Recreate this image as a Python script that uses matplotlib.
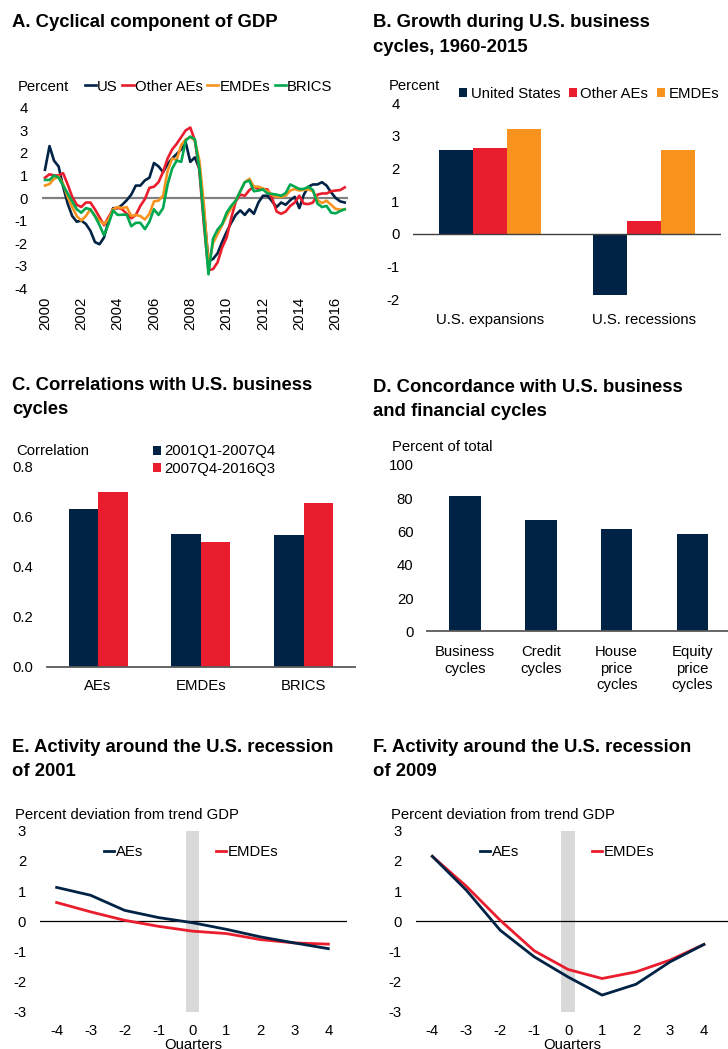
import numpy as np
import pandas as pd
import matplotlib
matplotlib.use('Agg')
import matplotlib.pyplot as plt

plt.rcParams['font.family'] = ['Liberation Sans', 'DejaVu Sans']
plt.rcParams['axes.unicode_minus'] = False

W, H = 728, 1049
NAVY = '#002345'
RED = '#E91D2D'
ORANGE = '#F7931E'
GREEN = '#00A850'
FS = 10.7
TFS = 13.3

# ---------------- Data ----------------
# A. Cyclical component of GDP (percent), quarterly 2000Q1-2016Q3
quarters = pd.period_range('2000Q1', '2016Q3', freq='Q')
a_us = [1.25, 2.3, 1.65, 1.4, 0.5, -0.25, -0.8, -1.05,
        -1.0, -1.15, -1.45, -1.95, -2.05, -1.75, -1.0, -0.45,
        -0.45, -0.3, -0.1, 0.15, 0.55, 0.55, 0.78, 0.9,
        1.55, 1.4, 1.15, 1.5, 1.75, 1.95, 2.15, 2.45,
        1.6, 1.8, 1.3, -0.6, -2.8, -2.7, -2.45, -1.95,
        -1.5, -1.1, -0.75, -0.55, -0.75, -0.5, -0.7, -0.2,
        0.1, 0.1, -0.15, -0.4, -0.2, -0.3, -0.1, 0.05,
        -0.45, 0.15, 0.5, 0.6, 0.6, 0.7, 0.55, 0.25,
        0.0, -0.15, -0.2]
a_other_aes = [0.9, 1.05, 1.0, 1.0, 1.1, 0.6, 0.05, -0.3,
               -0.4, -0.2, -0.2, -0.5, -0.85, -1.2, -0.85, -0.5,
               -0.42, -0.5, -0.7, -0.9, -0.75, -0.35, -0.05, 0.45,
               0.5, 0.7, 1.15, 1.75, 2.15, 2.4, 2.7, 3.0,
               3.12, 2.55, 1.2, -1.2, -3.2, -3.15, -2.85, -2.2,
               -1.75, -0.9, -0.15, 0.15, 0.1, 0.35, 0.5, 0.4,
               0.4, 0.38, 0.0, -0.6, -0.7, -0.6, -0.35, -0.2,
               0.1, -0.25, -0.27, -0.2, 0.15, 0.2, 0.2, 0.3,
               0.33, 0.35, 0.47]
a_emdes = [0.55, 0.62, 0.85, 0.95, 0.62, 0.05, -0.4, -0.8,
           -1.0, -0.8, -0.5, -0.8, -1.0, -1.15, -0.95, -0.5,
           -0.4, -0.45, -0.4, -0.8, -0.75, -0.8, -0.95, -0.7,
           -0.15, -0.12, 0.1, 1.2, 1.75, 1.7, 2.35, 2.6,
           2.7, 2.55, 1.65, -0.3, -3.0, -2.0, -1.6, -1.2,
           -0.8, -0.45, -0.1, 0.3, 0.7, 0.85, 0.5, 0.5,
           0.42, 0.3, 0.15, 0.05, 0.05, 0.1, 0.33, 0.4,
           0.33, 0.36, 0.38, 0.3, -0.1, -0.22, -0.12, -0.3,
           -0.48, -0.52, -0.5]
a_brics = [0.8, 0.8, 1.0, 0.9, 0.55, 0.2, -0.15, -0.5,
           -0.65, -0.45, -0.5, -0.8, -1.2, -1.65, -1.15, -0.55,
           -0.75, -0.74, -0.74, -1.25, -1.1, -1.1, -1.38, -1.05,
           -0.5, -0.75, -0.45, 0.6, 1.3, 1.66, 1.6, 2.55,
           2.72, 2.6, 1.3, -1.0, -3.38, -1.8, -1.4, -1.16,
           -0.65, -0.35, -0.12, 0.3, 0.7, 0.77, 0.3, 0.33,
           0.38, 0.2, 0.18, 0.15, 0.1, 0.22, 0.6, 0.5,
           0.4, 0.4, 0.5, 0.35, -0.25, -0.4, -0.35, -0.65,
           -0.68, -0.58, -0.5]
a_year_ticks = [2000, 2002, 2004, 2006, 2008, 2010, 2012, 2014, 2016]

# B. Growth during U.S. business cycles, 1960-2015
b_categories = ['U.S. expansions', 'U.S. recessions']
b_us = [2.58, -1.88]
b_other_aes = [2.63, 0.40]
b_emdes = [3.20, 2.56]

# C. Correlations with U.S. business cycles
c_categories = ['AEs', 'EMDEs', 'BRICS']
c_2001_2007 = [0.63, 0.53, 0.527]
c_2007_2016 = [0.697, 0.50, 0.656]

# D. Concordance with U.S. business and financial cycles
d_categories = ['Business\ncycles', 'Credit\ncycles', 'House\nprice\ncycles', 'Equity\nprice\ncycles']
d_values = [81.2, 67.1, 61.5, 58.8]

# E / F. Activity around U.S. recessions
ef_quarters = [-4, -3, -2, -1, 0, 1, 2, 3, 4]
e_aes = [1.12, 0.86, 0.36, 0.12, -0.05, -0.27, -0.52, -0.72, -0.91]
e_emdes = [0.62, 0.31, 0.03, -0.17, -0.33, -0.41, -0.61, -0.72, -0.76]
f_aes = [2.15, 1.03, -0.30, -1.18, -1.85, -2.45, -2.09, -1.35, -0.77]
f_emdes = [2.15, 1.16, 0.03, -0.98, -1.60, -1.90, -1.68, -1.29, -0.77]

# ---------------- Figure ----------------
fig = plt.figure(figsize=(W / 100, H / 100), dpi=100)


def px_axes(l, r, t, b):
    return fig.add_axes([l / W, 1 - b / H, (r - l) / W, (b - t) / H])


def style(ax):
    for s in ax.spines.values():
        s.set_visible(False)
    ax.tick_params(length=0, labelsize=FS, pad=10)


def ftext(x, y, s, **kw):
    kw.setdefault('fontsize', FS)
    kw.setdefault('va', 'center')
    return fig.text(x / W, 1 - y / H, s, **kw)


def title(x, y_base, lines):
    for k, line in enumerate(lines):
        fig.text(x / W, 1 - (y_base + 24 * k) / H, line, fontsize=TFS,
                 weight='bold', va='baseline', ha='left')


# ---- Panel A ----
title(12, 27.5, ['A. Cyclical component of GDP'])
axA = px_axes(41.7, 348, 107.7, 288.3)
tA = quarters.year + (quarters.quarter - 1) / 4.0
axA.axhline(0, color='#808080', lw=1.6, zorder=0)
axA.plot(tA, a_us, color=NAVY, lw=1.9, label='US')
axA.plot(tA, a_other_aes, color=RED, lw=1.9, label='Other AEs')
axA.plot(tA, a_emdes, color=ORANGE, lw=1.9, label='EMDEs')
axA.plot(tA, a_brics, color=GREEN, lw=1.9, label='BRICS')
axA.set_xlim(1999.82, 2016.68)
axA.set_ylim(-4, 4)
axA.set_yticks(range(-4, 5))
axA.set_xticks(a_year_ticks)
axA.set_xticklabels([str(y) for y in a_year_ticks], rotation=90)
style(axA)
axA.tick_params(axis='x', pad=6)
ftext(18, 86.7, 'Percent')
hA, lA = axA.get_legend_handles_labels()
fig.legend(hA, lA, loc='center left', bbox_to_anchor=(85 / W, 1 - 86.7 / H),
           ncol=4, frameon=False, fontsize=FS, handlelength=0.75,
           handletextpad=0.08, columnspacing=0.3, borderpad=0, borderaxespad=0)

# ---- Panel B ----
title(373, 27.5, ['B. Growth during U.S. business', 'cycles, 1960-2015'])
axB = px_axes(413.3, 720.7, 103.3, 299.3)
xb = np.arange(len(b_categories))
wb = 0.221
axB.bar(xb - wb, b_us, wb, color=NAVY, label='United States')
axB.bar(xb, b_other_aes, wb, color=RED, label='Other AEs')
axB.bar(xb + wb, b_emdes, wb, color=ORANGE, label='EMDEs')
axB.axhline(0, color='#404040', lw=1.0)
axB.set_xlim(-0.5, 1.5)
axB.set_ylim(-2, 4)
axB.set_yticks(range(-2, 5))
axB.set_xticks(xb)
axB.set_xticklabels(b_categories)
style(axB)
axB.tick_params(axis='x', pad=10)
ftext(389, 86, 'Percent')
hB, lB = axB.get_legend_handles_labels()
fig.legend(hB, lB, loc='center left', bbox_to_anchor=(459 / W, 1 - 94 / H),
           ncol=3, frameon=False, fontsize=FS, handlelength=0.55,
           handleheight=0.55, handletextpad=0.25, columnspacing=0.55,
           borderpad=0, borderaxespad=0)

# ---- Panel C ----
title(12, 390.5, ['C. Correlations with U.S. business', 'cycles'])
axC = px_axes(46.7, 355, 466.7, 666.7)
xc = np.arange(len(c_categories))
wc = 0.287
axC.bar(xc - wc / 2, c_2001_2007, wc, color=NAVY, label='2001Q1-2007Q4')
axC.bar(xc + wc / 2, c_2007_2016, wc, color=RED, label='2007Q4-2016Q3')
axC.axhline(0, color='#595959', lw=1.3, clip_on=False)
axC.set_xlim(-0.5, 2.5)
axC.set_ylim(0, 0.8)
axC.set_yticks([0, 0.2, 0.4, 0.6, 0.8])
axC.set_yticklabels(['0.0', '0.2', '0.4', '0.6', '0.8'])
axC.set_xticks(xc)
axC.set_xticklabels(c_categories)
style(axC)
axC.tick_params(axis='x', pad=9)
ftext(16, 451, 'Correlation')
hC, lC = axC.get_legend_handles_labels()
fig.legend(hC, lC, loc='center left', bbox_to_anchor=(153 / W, 1 - 460.3 / H),
           ncol=1, frameon=False, fontsize=FS, handlelength=0.55,
           handleheight=0.55, handletextpad=0.2, labelspacing=0.25,
           borderpad=0, borderaxespad=0)

# ---- Panel D ----
title(373, 391.5, ['D. Concordance with U.S. business', 'and financial cycles'])
axD = px_axes(427.3, 728, 465, 631.3)
xd = np.arange(len(d_categories))
axD.bar(xd, d_values, 0.415, color=NAVY)
axD.axhline(0, color='#595959', lw=1.3, clip_on=False)
axD.set_xlim(-0.5, 3.47)
axD.set_ylim(0, 100)
axD.set_yticks(range(0, 101, 20))
axD.set_xticks(xd)
axD.set_xticklabels(d_categories, linespacing=1.22)
style(axD)
axD.tick_params(axis='x', pad=10)
ftext(391.7, 446.7, 'Percent of total')


# ---- Panels E and F ----
def recession_panel(l, r, xmax, aes, emdes, txt_x, leg_x):
    ax = px_axes(l, r, 830.7, 1011.7)
    ax.axvspan(-0.2, 0.2, color='#D9D9D9', lw=0, zorder=0)
    ax.axhline(0, color='black', lw=0.9, zorder=1)
    ax.plot(ef_quarters, aes, color=NAVY, lw=2, label='AEs', zorder=3)
    ax.plot(ef_quarters, emdes, color=RED, lw=2, label='EMDEs', zorder=2)
    ax.set_xlim(-4.49, xmax)
    ax.set_ylim(-3, 3)
    ax.set_yticks(range(-3, 4))
    ax.set_xticks(ef_quarters)
    style(ax)
    ax.tick_params(axis='x', pad=9)
    ax.set_xlabel('Quarters', fontsize=FS, labelpad=0)
    ftext(txt_x, 815, 'Percent deviation from trend GDP')
    h, lab = ax.get_legend_handles_labels()
    fig.legend(h, lab, loc='center left', bbox_to_anchor=(leg_x / W, 1 - 852 / H),
               ncol=2, frameon=False, fontsize=FS, handlelength=0.7,
               handletextpad=0.08, columnspacing=4.9, borderpad=0, borderaxespad=0)
    return ax


title(12, 752.5, ['E. Activity around the U.S. recession', 'of 2001'])
recession_panel(40, 346.7, 4.54, e_aes, e_emdes, 15, 104)
title(373, 752.5, ['F. Activity around the U.S. recession', 'of 2009'])
recession_panel(415.7, 728, 4.71, f_aes, f_emdes, 391.3, 480)

fig.savefig('out.png', dpi=100)
